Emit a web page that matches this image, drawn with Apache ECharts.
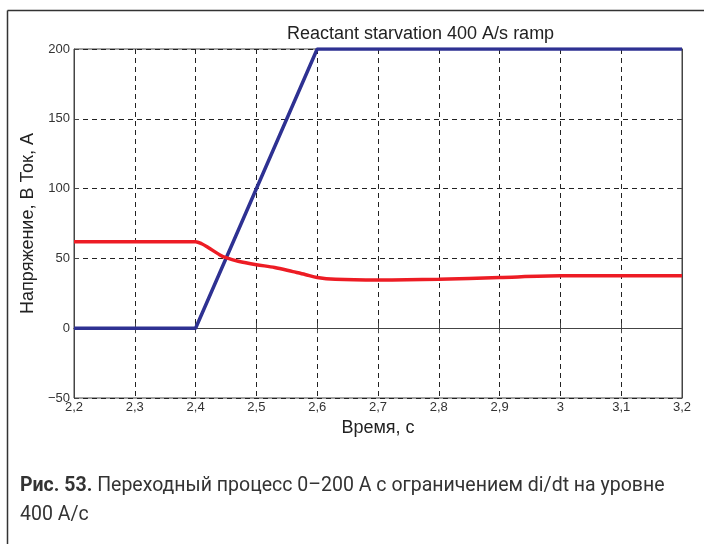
<!DOCTYPE html>
<html>
<head>
<meta charset="utf-8">
<script src="https://cdn.jsdelivr.net/npm/echarts@6/dist/echarts.min.js"></script>
<style>
  html, body { margin: 0; padding: 0; background: #fff; }
</style>
</head>
<body>
<div id="myChart" style="width:704px;height:544px;"></div>
<script>
// данные
const xTicks = [2.2, 2.3, 2.4, 2.5, 2.6, 2.7, 2.8, 2.9, 3.0, 3.1, 3.2];
const yTicks = [-50, 0, 50, 100, 150, 200];

// ток (синяя линия)
const currentT = [2.2, 2.4, 2.6, 3.2];
const currentA = [0, 0, 200, 200];

// напряжение (красная линия)
const voltageT = [2.2, 2.4, 2.41, 2.42, 2.44, 2.45, 2.47, 2.5, 2.53, 2.56, 2.58, 2.6, 2.63, 2.7, 2.8, 2.9, 3.0, 3.2];
const voltageV = [62, 62, 60.5, 58, 52.5, 50.5, 48, 45.5, 43.5, 40.5, 38.5, 36.3, 35, 34.5, 35, 36.3, 37.5, 37.5];

const pair = (xs, ys) => xs.map((x, i) => [x, ys[i]]);
const fmtX = v => String(parseFloat(v.toFixed(1))).replace('.', ',');
const fmtY = v => String(v).replace('-', '\u2212');

let myChart = echarts.init(document.getElementById('myChart'));
myChart.setOption({
  animation: false,
  title: {
    text: 'Reactant starvation 400 A/s ramp',
    left: 282,
    top: 20,
    textStyle: { fontFamily: 'Liberation Sans', fontSize: 18, fontWeight: 'normal', color: '#222' }
  },
  grid: {
    left: 74, top: 49, right: 22, bottom: 146,
    show: true, borderColor: '#444', borderWidth: 1
  },
  xAxis: [
    {
      type: 'value',
      min: xTicks[0], max: xTicks[xTicks.length - 1], interval: 0.1,
      name: 'Время, с',
      nameLocation: 'middle',
      nameGap: 19,
      nameTextStyle: { fontFamily: 'Liberation Sans', fontSize: 18, color: '#222' },
      axisLine: { lineStyle: { color: '#444' } },
      axisTick: { inside: true, length: 5, lineStyle: { color: '#444' } },
      axisLabel: { formatter: fmtX, fontFamily: 'Liberation Sans', fontSize: 13, color: '#333', margin: 3 },
      splitLine: { show: true, lineStyle: { type: [5, 4], color: '#222', width: 1 } }
    },
    {
      type: 'value', position: 'top',
      min: xTicks[0], max: xTicks[xTicks.length - 1], interval: 0.1,
      axisLine: { lineStyle: { color: '#444' } },
      axisTick: { inside: true, length: 5, lineStyle: { color: '#444' } },
      axisLabel: { show: false },
      splitLine: { show: false }
    }
  ],
  yAxis: [
    {
      type: 'value',
      min: yTicks[0], max: yTicks[yTicks.length - 1], interval: 50,
      name: 'Напряжение, В Ток, А',
      nameLocation: 'middle',
      nameGap: 35,
      nameTextStyle: { fontFamily: 'Liberation Sans', fontSize: 18, color: '#222' },
      axisLine: { show: true, lineStyle: { color: '#444' } },
      axisTick: { show: true, inside: true, length: 5, lineStyle: { color: '#444' } },
      axisLabel: { formatter: fmtY, fontFamily: 'Liberation Sans', fontSize: 13, color: '#333', margin: 4 },
      splitLine: { show: true, lineStyle: { type: [5, 4], color: '#222', width: 1 } }
    },
    {
      type: 'value', position: 'right',
      min: yTicks[0], max: yTicks[yTicks.length - 1], interval: 50,
      axisLine: { show: true, lineStyle: { color: '#444' } },
      axisTick: { show: true, inside: true, length: 5, lineStyle: { color: '#444' } },
      axisLabel: { show: false },
      splitLine: { show: false }
    }
  ],
  series: [
    {
      name: 'Ток',
      type: 'line',
      data: pair(currentT, currentA),
      symbol: 'none',
      lineStyle: { color: '#2e3192', width: 3.5 },
      z: 3
    },
    {
      name: 'Напряжение',
      type: 'line',
      data: pair(voltageT, voltageV),
      symbol: 'none',
      smooth: 0.3,
      lineStyle: { color: '#ed1c24', width: 3.5 },
      z: 4
    }
  ],
  graphic: [
    { type: 'line', shape: { x1: 7.5, y1: 10.5, x2: 704, y2: 10.5 }, style: { stroke: '#333', lineWidth: 1.5 } },
    { type: 'line', shape: { x1: 7.5, y1: 10.5, x2: 7.5, y2: 544 }, style: { stroke: '#333', lineWidth: 1.5 } },
    {
      type: 'text', left: 20, top: 472,
      style: {
        text: '{b|Рис. 53.} Переходный процесс 0–200 А с ограничением di/dt на уровне\n400 А/с',
        font: '19.5px "Roboto"',
        fill: '#333',
        lineHeight: 29,
        rich: {
          b: { font: 'bold 19.5px "Roboto"', fill: '#333' }
        }
      }
    }
  ]
});
window.onresize = function () {
  myChart.resize();
};
</script>
</body>
</html>
